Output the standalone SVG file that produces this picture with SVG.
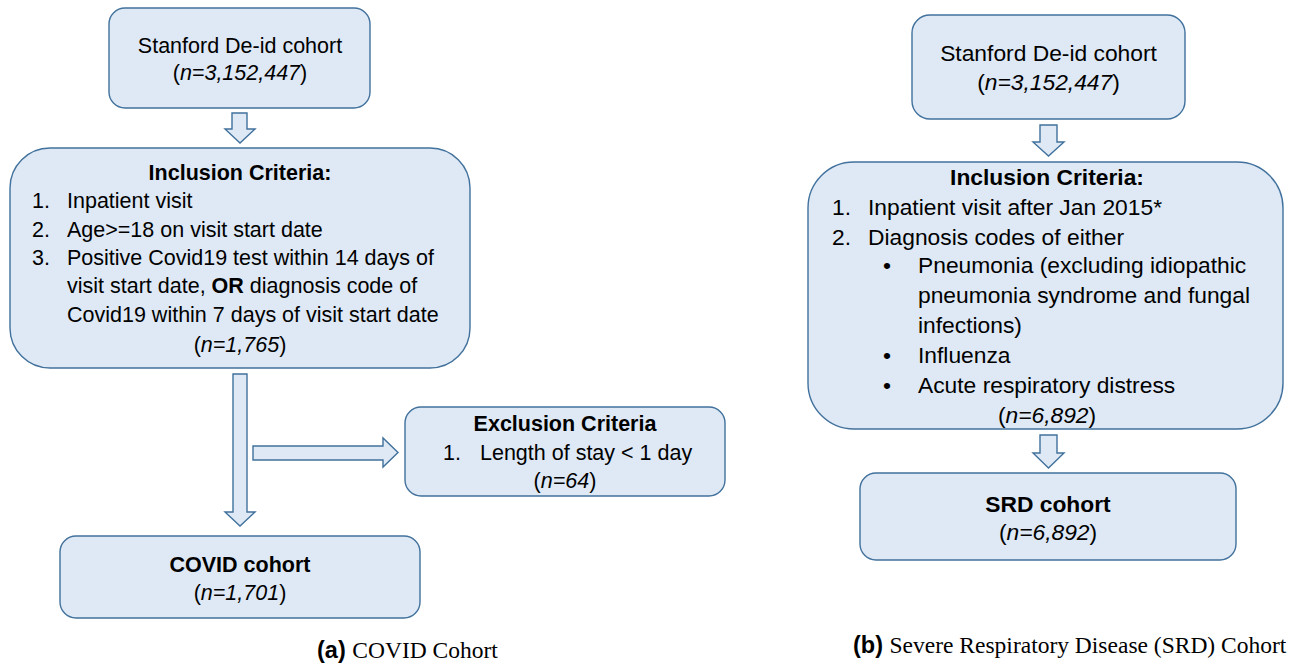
<svg xmlns="http://www.w3.org/2000/svg" width="1304" height="663" viewBox="0 0 1304 663">
<style>
.box{fill:#dee9f5;stroke:#41719c;stroke-width:1.4}
.arr{fill:#dee9f5;stroke:#41719c;stroke-width:1.4;stroke-linejoin:miter}
text{font-family:"Liberation Sans",Arial,sans-serif;fill:#000}
.l{font-size:21.5px}
.r{font-size:22.8px}
.c{text-anchor:middle}
.b{font-weight:bold}
.i{font-style:italic}
.cap{font-size:23.5px}
.serif{font-family:"Liberation Serif","Times New Roman",serif}
</style>
<rect width="1304" height="663" fill="#fff"/>
<g id="connectors">
<polygon class="arr" points="232,113 247,113 247,129 255,129 240,143 225,129 232,129"/>
<polygon class="arr" points="233,374 247,374 247,512 255,512 240,526 225,512 233,512"/>
<polygon class="arr" points="253,446 383,446 383,438 398,452.5 383,467 383,460 253,460"/>
<polygon class="arr" points="1040,125 1057,125 1057,142 1064,142 1048.5,156 1033,142 1040,142"/>
<polygon class="arr" points="1040,435 1057,435 1057,453 1064,453 1048.5,468 1033,453 1040,453"/>
</g>
<g id="a-source">
<rect class="box" x="109" y="8" width="261" height="100" rx="16"/>
<text class="l c" x="240" y="53">Stanford De-id cohort</text>
<text class="l c" x="240" y="80">(<tspan class="i">n=3,152,447</tspan>)</text>
</g>
<g id="a-inclusion">
<rect class="box" x="10" y="148" width="460" height="220" rx="40"/>
<text class="l c b" x="240" y="180">Inclusion Criteria:</text>
<text class="l" x="32" y="208">1.</text><text class="l" x="67" y="208">Inpatient visit</text>
<text class="l" x="32" y="237">2.</text><text class="l" x="67" y="237">Age&gt;=18 on visit start date</text>
<text class="l" x="32" y="265">3.</text><text class="l" x="67" y="265">Positive Covid19 test within 14 days of</text>
<text class="l" x="67" y="293">visit start date, <tspan class="b">OR</tspan> diagnosis code of</text>
<text class="l" x="67" y="322">Covid19 within 7 days of visit start date</text>
<text class="l c" x="240" y="352">(<tspan class="i">n=1,765</tspan>)</text>
</g>
<g id="a-exclusion">
<rect class="box" x="405" y="407" width="320" height="89" rx="16"/>
<text class="l c b" x="565" y="431">Exclusion Criteria</text>
<text class="l" x="443" y="460">1.</text><text class="l" x="480" y="460">Length of stay &lt; 1 day</text>
<text class="l c" x="565" y="488">(<tspan class="i">n=64</tspan>)</text>
</g>
<g id="a-covid">
<rect class="box" x="60" y="536" width="360" height="82" rx="16"/>
<text class="l c b" x="240" y="572">COVID cohort</text>
<text class="l c" x="240" y="600">(<tspan class="i">n=1,701</tspan>)</text>
</g>
<g id="b-source">
<rect class="box" x="912" y="15" width="273" height="104" rx="18"/>
<text class="r c" x="1048.5" y="61">Stanford De-id cohort</text>
<text class="r c" x="1048.5" y="90">(<tspan class="i">n=3,152,447</tspan>)</text>
</g>
<g id="b-inclusion">
<rect class="box" x="808" y="162" width="475" height="267" rx="46"/>
<text class="r c b" x="1047" y="185">Inclusion Criteria:</text>
<text class="r" x="832" y="215">1.</text><text class="r" x="868" y="215">Inpatient visit after Jan 2015*</text>
<text class="r" x="832" y="245">2.</text><text class="r" x="868" y="245">Diagnosis codes of either</text>
<text class="r" x="883" y="273">•</text><text class="r" x="918" y="273">Pneumonia (excluding idiopathic</text>
<text class="r" x="918" y="303">pneumonia syndrome and fungal</text>
<text class="r" x="918" y="333">infections)</text>
<text class="r" x="883" y="363">•</text><text class="r" x="918" y="363">Influenza</text>
<text class="r" x="883" y="393">•</text><text class="r" x="918" y="393">Acute respiratory distress</text>
<text class="r c" x="1047" y="423">(<tspan class="i">n=6,892</tspan>)</text>
</g>
<g id="b-srd">
<rect class="box" x="860" y="473" width="376" height="87" rx="16"/>
<text class="r c b" x="1048" y="512">SRD cohort</text>
<text class="r c" x="1048" y="540">(<tspan class="i">n=6,892</tspan>)</text>
</g>
<g id="captions">
<text class="cap" x="317" y="658"><tspan class="b">(a)</tspan> <tspan class="serif">COVID Cohort</tspan></text>
<text class="cap" x="853" y="653"><tspan class="b">(b)</tspan> <tspan class="serif">Severe Respiratory Disease (SRD) Cohort</tspan></text>
</g>
</svg>
